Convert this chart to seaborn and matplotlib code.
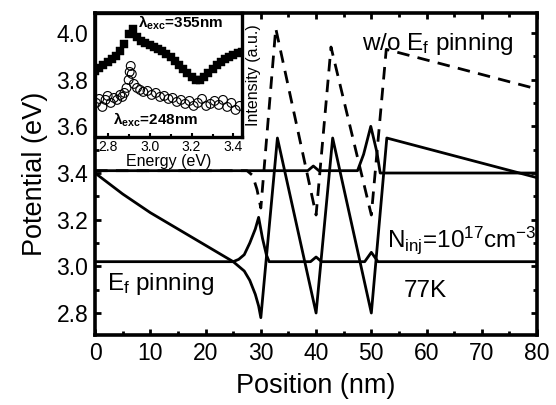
import numpy as np
import pandas as pd
import matplotlib
matplotlib.use("Agg")
import matplotlib.pyplot as plt
from matplotlib.ticker import MultipleLocator
import seaborn as sns

# main panel: potential profiles, position in nm, potential in eV
pin_x = [0, 5, 10, 15, 20, 25, 27, 28, 29, 29.6, 30, 33, 40, 43, 50, 52.8, 80]
pin_v = [3.40, 3.31, 3.23, 3.16, 3.09, 3.02, 2.98, 2.94, 2.88, 2.83, 2.78, 3.55, 2.80, 3.55, 2.80, 3.55, 3.38]

low_x = [0, 25, 26, 27, 28, 29, 29.6, 30.3, 31, 31.5, 39, 40, 41, 48.8, 50, 51.2, 80]
low_v = [3.02, 3.02, 3.03, 3.05, 3.10, 3.16, 3.21, 3.12, 3.05, 3.02, 3.02, 3.04, 3.02, 3.02, 3.06, 3.02, 3.02]

up_x = [0, 32, 38.5, 39.5, 40.5, 47.5, 48.6, 49.9, 51.0, 51.6, 80]
up_v = [3.41, 3.41, 3.41, 3.43, 3.41, 3.41, 3.48, 3.60, 3.49, 3.40, 3.40]

nopin_x = [0, 27.5, 28.5, 29.3, 30, 32.7, 40, 42.7, 50, 52.7, 80]
nopin_v = [3.41, 3.41, 3.39, 3.33, 3.25, 4.02, 3.22, 3.94, 3.22, 3.93, 3.76]

# inset: PL spectra, energy in eV, intensity in a.u.
sq_e = [2.74, 2.76, 2.78, 2.80, 2.82, 2.84, 2.86, 2.88, 2.90, 2.92, 2.94, 2.96,
        2.98, 3.00, 3.02, 3.04, 3.06, 3.08, 3.10, 3.12, 3.14, 3.16, 3.18, 3.20,
        3.22, 3.24, 3.26, 3.28, 3.30, 3.32, 3.34, 3.36, 3.38, 3.40, 3.42, 3.44]
sq_i = [66, 69, 72, 75, 78, 81, 86, 93, 103, 108, 100, 96,
        94, 92, 90, 88, 86, 83, 80, 76, 72, 68, 64, 60,
        57, 57, 60, 64, 68, 72, 75, 78, 80, 82, 84, 85]

ci_e = [2.745, 2.76, 2.775, 2.79, 2.80, 2.815, 2.83, 2.845, 2.86, 2.87, 2.88,
        2.89, 2.90, 2.905, 2.91, 2.915, 2.925, 2.94, 2.955, 2.97, 2.99, 3.01,
        3.03, 3.05, 3.07, 3.09, 3.11, 3.13, 3.15, 3.17, 3.19, 3.21, 3.23, 3.25,
        3.27, 3.29, 3.31, 3.33, 3.35, 3.37, 3.39, 3.41, 3.43]
ci_i = [34, 38, 30, 37, 41, 34, 39, 37, 42, 40, 44,
        49, 57, 65, 71, 63, 53, 49, 47, 45, 46, 42,
        44, 40, 41, 38, 39, 35, 37, 33, 36, 31, 34, 38,
        31, 33, 36, 32, 37, 30, 34, 27, 31]

sns.set_style("ticks")
plt.rcParams["font.family"] = ["Liberation Sans", "DejaVu Sans"]
plt.rcParams["mathtext.default"] = "regular"
for key in ["text.color", "axes.labelcolor", "xtick.color", "ytick.color", "axes.edgecolor"]:
    plt.rcParams[key] = "black"

fig = plt.figure(figsize=(5.56, 4.05), dpi=100)
ax = fig.add_axes([0.171, 0.173, 0.795, 0.795])

lw = 2.0
sns.lineplot(x=pin_x, y=pin_v, color="black", lw=lw, estimator=None, ax=ax)
sns.lineplot(x=low_x, y=low_v, color="black", lw=lw, estimator=None, ax=ax)
sns.lineplot(x=up_x, y=up_v, color="black", lw=lw, estimator=None, ax=ax)
sns.lineplot(x=nopin_x, y=nopin_v, color="black", lw=lw, estimator=None, ax=ax,
             dashes=False)
ax.lines[-1].set_dashes((4.5, 3))

ax.set_xlim(0, 80)
ax.set_ylim(2.706, 4.086)
ax.xaxis.set_major_locator(MultipleLocator(10))
ax.xaxis.set_minor_locator(MultipleLocator(5))
ax.yaxis.set_major_locator(MultipleLocator(0.2))
ax.yaxis.set_minor_locator(MultipleLocator(0.1))
ax.yaxis.set_major_formatter(matplotlib.ticker.FormatStrFormatter("%.1f"))
ax.tick_params(which="both", direction="in", top=True, right=True, width=2)
ax.tick_params(which="major", length=4, labelsize=16.5, pad=5)
ax.tick_params(which="minor", length=3)
for sp in ax.spines.values():
    sp.set_linewidth(2.6)
ax.set_xlabel("Position (nm)", fontsize=19.5, labelpad=6)
ax.set_ylabel("Potential (eV)", fontsize=19.5, labelpad=6)

ax.text(48.3, 3.927, "w/o E$_f$ pinning", fontsize=17.5, ha="left", va="baseline")
ax.text(2.2, 2.898, "E$_f$ pinning", fontsize=17.5, ha="left", va="baseline")
ax.text(52.8, 3.083, "N$_{inj}$=10$^{17}$cm$^{-3}$", fontsize=17.5, ha="left", va="baseline")
ax.text(55.9, 2.868, "77K", fontsize=17.5, ha="left", va="baseline")

# inset with the two spectra
ax_in = fig.add_axes([0.171, 0.662, 0.264, 0.306])
sns.scatterplot(x=sq_e, y=sq_i, marker="s", s=32, color="black",
                edgecolor="black", linewidth=0.3, ax=ax_in)
sns.scatterplot(x=ci_e, y=ci_i, marker="o", s=40, facecolor="none",
                edgecolor="black", linewidth=0.8, ax=ax_in)
ax_in.set_xlim(2.74, 3.44)
ax_in.set_ylim(0, 124)
ax_in.xaxis.set_major_locator(MultipleLocator(0.2))
ax_in.xaxis.set_minor_locator(MultipleLocator(0.1))
ax_in.xaxis.set_major_formatter(matplotlib.ticker.FormatStrFormatter("%.1f"))
ax_in.set_yticks([])
ax_in.tick_params(which="both", direction="in", width=1.5, labelsize=10, pad=2)
ax_in.tick_params(which="major", length=3)
ax_in.tick_params(which="minor", length=2)
for sp in ax_in.spines.values():
    sp.set_linewidth(2.4)
ax_in.set_xlabel("Energy (eV)", fontsize=11.5, labelpad=0)
ax_in.set_ylabel("Intensity (a.u.)", fontsize=11.5, labelpad=3)
ax_in.yaxis.set_label_position("right")
ax_in.text(2.945, 109, "λ$_{exc}$=355nm", fontsize=11, fontweight="bold",
           ha="left", va="baseline")
ax_in.text(2.826, 12, "λ$_{exc}$=248nm", fontsize=11, fontweight="bold",
           ha="left", va="baseline")

fig.savefig("out.png", dpi=100)
